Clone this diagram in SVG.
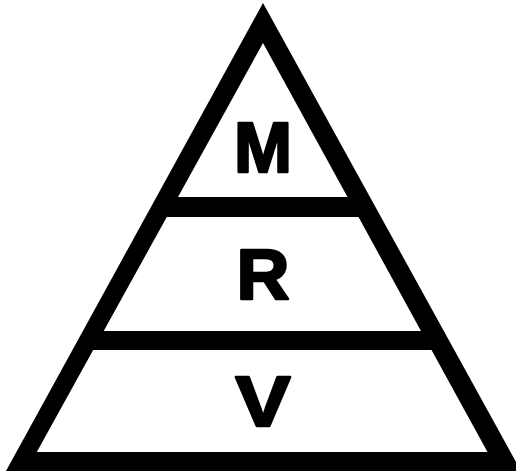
<svg xmlns="http://www.w3.org/2000/svg" width="516" height="472" viewBox="0 0 516 472">
<style>
.lbl{font-family:"Liberation Sans",Arial,sans-serif;font-weight:bold;font-size:70px;fill:#000;stroke:#000;stroke-width:2.5;stroke-linejoin:round;text-anchor:middle}
.hole{fill:#fff}
</style>
<rect width="516" height="472" fill="#fff"/>
<g id="triangle">
<polygon points="263,3 6,471 521,471" fill="#000"/>
<polygon class="hole" points="263,43 178,197 347.5,197"/>
<polygon class="hole" points="166.8,217 358.5,217 421,331 103.7,331"/>
<polygon class="hole" points="93.2,350 431.5,350 487.5,452 36.8,452"/>
</g>
<g id="node-M"><text class="lbl" x="263" y="172" textLength="58" lengthAdjust="spacingAndGlyphs">M</text></g>
<g id="node-R"><text class="lbl" x="263" y="299" textLength="53" lengthAdjust="spacingAndGlyphs">R</text></g>
<g id="node-V"><text class="lbl" x="263" y="426" textLength="55" lengthAdjust="spacingAndGlyphs">V</text></g>
</svg>
